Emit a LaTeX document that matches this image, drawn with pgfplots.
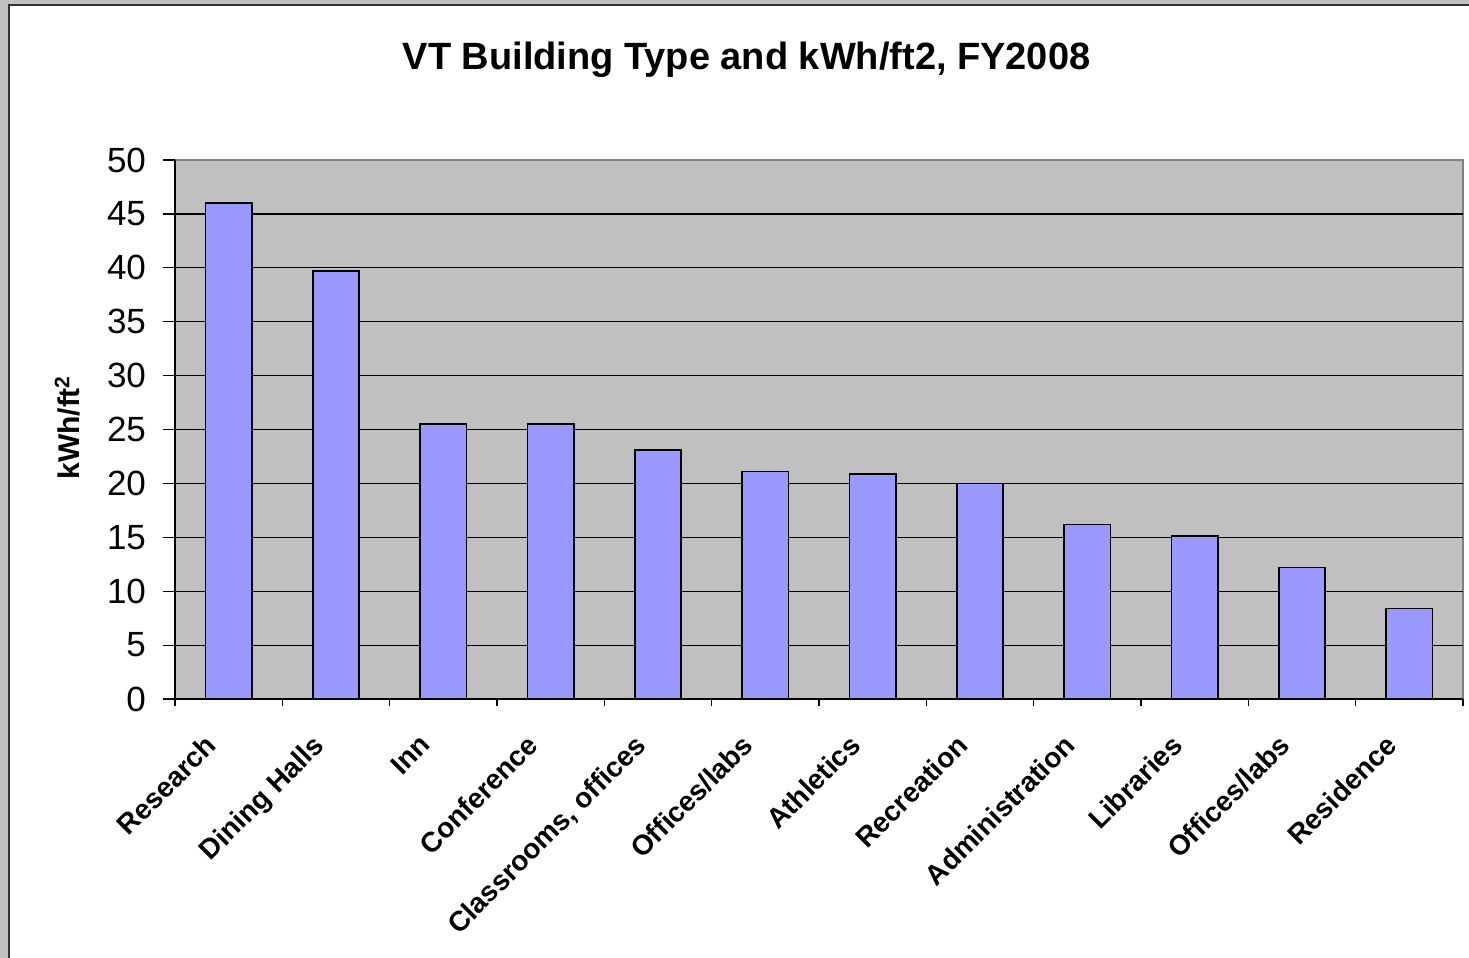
\documentclass[border=0pt]{standalone}
\usepackage{fontspec}
\setmainfont{Liberation Sans}
\usepackage{pgfplots}
\pgfplotsset{compat=1.18}
\definecolor{bggray}{HTML}{C0C0C0}
\definecolor{barblue}{HTML}{9999FF}
\definecolor{framegray}{HTML}{808080}
\definecolor{borderdark}{HTML}{333333}
\begin{document}
\begin{tikzpicture}
\useasboundingbox (0,0) rectangle (734.5pt,-479pt);
\clip (0,0) rectangle (734.5pt,-479pt);
\fill[bggray] (0,0) rectangle (734.5pt,-479pt);
\fill[white] (4.5pt,-2.5pt) rectangle (740pt,-490pt);
\draw[borderdark, line width=1pt] (4.5pt,-490pt) -- (4.5pt,-2.5pt) -- (740pt,-2.5pt);
\node[font=\bfseries\fontsize{19pt}{23pt}\selectfont] at (373.25pt,-30pt) {VT Building Type and kWh/ft2, FY2008};
\node[rotate=90, font=\bfseries\fontsize{15pt}{18pt}\selectfont] at (33.75pt,-213.75pt) {kWh/ft\textsuperscript{2}};
\begin{axis}[
  at={(87.5pt,-349.5pt)}, anchor=south west,
  scale only axis, width=644pt, height=269.5pt,
  xmin=-0.5, xmax=11.5, ymin=0, ymax=50,
  axis background/.style={fill=bggray, draw=framegray, line width=1pt},
  axis lines=left,
  axis line style={-, black, line width=0.8pt},
  ytick={0,5,...,45},
  extra y ticks={50},
  extra y tick style={grid=none},
  ymajorgrids,
  grid style={black, line width=0.6pt},
  xtick={-0.5,0.5,...,11.5},
  x tick label as interval,
  xticklabels={Research,Dining Halls,Inn,Conference,{Classrooms, offices},Offices/labs,Athletics,Recreation,Administration,Libraries,Offices/labs,Residence},
  tick align=outside,
  major tick length=6pt,
  tick style={black, line width=0.6pt},
  x tick style={/pgfplots/major tick length=3.5pt},
  xticklabel style={xshift=-12.5pt, yshift=-6pt, rotate=45, anchor=north east, font=\bfseries\fontsize{14pt}{17pt}\selectfont},
  yticklabel style={font=\fontsize{17.5pt}{21pt}\selectfont, xshift=-5pt},
  /pgf/number format/assume math mode=true,
  ybar, bar width=0.43,
]
\addplot[fill=barblue, draw=black, line width=0.8pt] coordinates {
  (0,46.0) (1,39.7) (2,25.5) (3,25.5) (4,23.1) (5,21.1)
  (6,20.9) (7,20.0) (8,16.2) (9,15.1) (10,12.2) (11,8.4)
};
\end{axis}
\end{tikzpicture}
\end{document}
